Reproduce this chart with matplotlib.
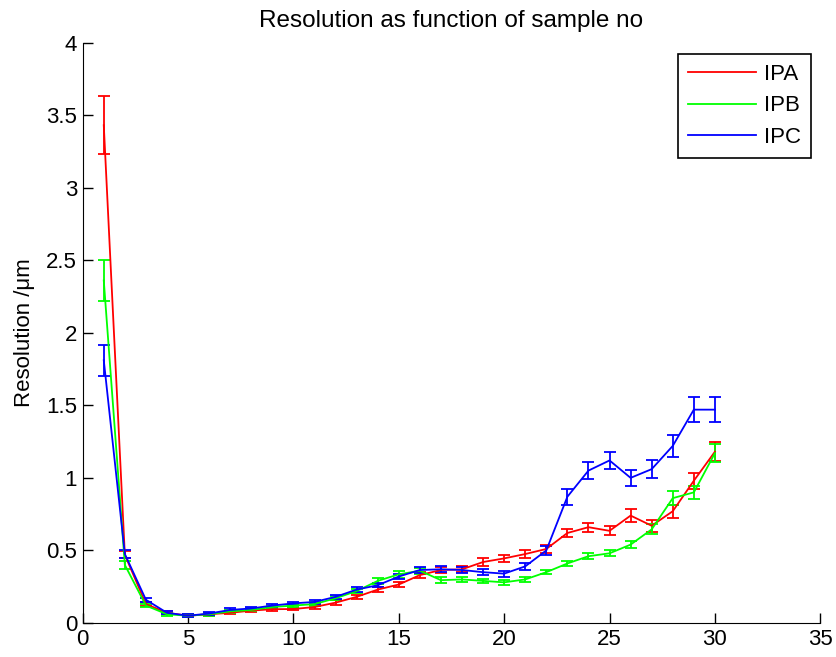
import matplotlib.pyplot as plt
from matplotlib.lines import Line2D
import numpy as np

plt.rcParams['font.family'] = ['Liberation Sans', 'DejaVu Sans']

sample_no = np.arange(1, 31)

ipa = [3.43, 0.47, 0.13, 0.07, 0.05, 0.06, 0.07, 0.085, 0.095, 0.096,
       0.11, 0.14, 0.18, 0.23, 0.265, 0.33, 0.365, 0.37, 0.42, 0.445,
       0.475, 0.51, 0.62, 0.66, 0.635, 0.74, 0.67, 0.77, 0.98, 1.18]
ipa_err = [0.2, 0.025, 0.015, 0.01, 0.01, 0.01, 0.01, 0.01, 0.01, 0.01,
           0.012, 0.015, 0.015, 0.02, 0.02, 0.02, 0.02, 0.02, 0.025, 0.025,
           0.025, 0.03, 0.03, 0.03, 0.03, 0.045, 0.04, 0.045, 0.055, 0.065]

ipb = [2.36, 0.40, 0.12, 0.06, 0.05, 0.06, 0.08, 0.09, 0.11, 0.12,
       0.13, 0.17, 0.22, 0.29, 0.335, 0.36, 0.295, 0.30, 0.29, 0.28,
       0.30, 0.35, 0.41, 0.46, 0.48, 0.54, 0.645, 0.86, 0.90, 1.17]
ipb_err = [0.14, 0.025, 0.012, 0.01, 0.01, 0.01, 0.01, 0.01, 0.01, 0.012,
           0.012, 0.015, 0.015, 0.02, 0.025, 0.02, 0.02, 0.015, 0.015, 0.015,
           0.015, 0.015, 0.02, 0.02, 0.02, 0.025, 0.035, 0.05, 0.045, 0.06]

ipc = [1.81, 0.475, 0.16, 0.07, 0.05, 0.065, 0.09, 0.10, 0.12, 0.135,
       0.145, 0.18, 0.23, 0.26, 0.32, 0.365, 0.37, 0.365, 0.35, 0.34,
       0.39, 0.50, 0.87, 1.05, 1.12, 1.00, 1.06, 1.22, 1.47, 1.47]
ipc_err = [0.105, 0.03, 0.015, 0.01, 0.01, 0.01, 0.01, 0.01, 0.01, 0.012,
           0.012, 0.015, 0.015, 0.015, 0.02, 0.02, 0.02, 0.02, 0.02, 0.02,
           0.025, 0.03, 0.055, 0.06, 0.06, 0.055, 0.06, 0.075, 0.085, 0.085]

series = [('IPA', ipa, ipa_err, '#ff0000'),
          ('IPB', ipb, ipb_err, '#00ff00'),
          ('IPC', ipc, ipc_err, '#0000ff')]

fig = plt.figure(figsize=(8.37, 6.57), dpi=100)
ax = fig.add_axes([0.0988, 0.0518, 0.8812, 0.8835])

handles = []
for name, vals, err, col in series:
    ax.errorbar(sample_no, vals, yerr=err, color=col, lw=1.3,
                elinewidth=1.3, capsize=4, capthick=1.3)
    handles.append(Line2D([], [], color=col, lw=1.3, label=name))

ax.set_xlim(0, 35)
ax.set_ylim(0, 4)
ax.set_xticks(np.arange(0, 36, 5))
ax.set_yticks(np.arange(0, 4.01, 0.5))
ax.set_yticklabels(['0', '0.5', '1', '1.5', '2', '2.5', '3', '3.5', '4'])
ax.tick_params(direction='in', length=7, labelsize=16, width=1, pad=4)
ax.spines['top'].set_visible(False)
ax.spines['right'].set_visible(False)

ax.set_title('Resolution as function of sample no', fontsize=17.5, pad=11)
ax.set_ylabel('Resolution /\u03bcm', fontsize=16, labelpad=8)

leg = ax.legend(handles=handles, loc='upper right', bbox_to_anchor=(0.988, 0.980),
                borderaxespad=0, fontsize=16, handlelength=3.05,
                handletextpad=0.4, fancybox=False, edgecolor='black',
                framealpha=1, borderpad=0.45, labelspacing=0.46)
leg.get_frame().set_linewidth(1.2)

fig.savefig('out.png', dpi=100)
